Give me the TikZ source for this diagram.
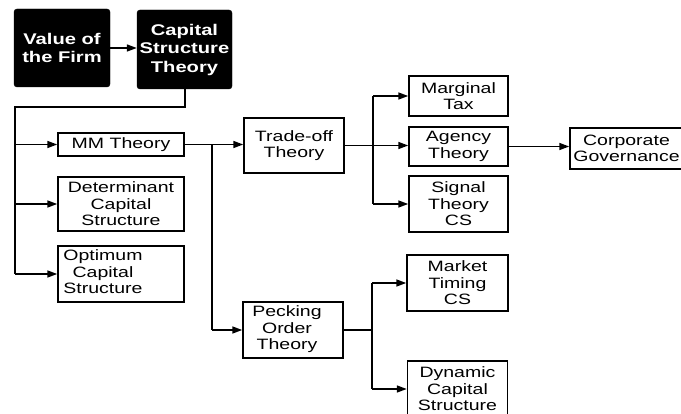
\documentclass[tikz,border=0pt]{standalone}
\usepackage{fontspec}
\setmainfont{Liberation Sans}[FakeStretch=1.3]
\usetikzlibrary{arrows.meta}
\begin{document}
\begin{tikzpicture}[x=1pt,y=-1pt,
  every node/.style={font=\fontsize{15}{16.5}\selectfont},
  blackbox/.style={fill=black,draw=black,rounded corners=3pt,text=white,align=center,
    font=\fontsize{15.5}{18.5}\selectfont\bfseries,inner sep=0pt},
  wbox/.style={draw=black,line width=1.5pt,align=center,inner sep=0pt},
  conn/.style={line width=1.6pt},
  arr/.style={line width=1.6pt,-{Triangle[length=10pt,width=7pt]}}]
\useasboundingbox (0,0) rectangle (681,414);
\clip (0,0) rectangle (681,414);
\fill[white] (0,0) rectangle (681,414);
% nodes
\node[blackbox,minimum width=96pt,minimum height=78pt] (vf) at (62,48) {Value of\\the Firm};
\node[blackbox,minimum width=95pt,minimum height=79pt] (cst) at (184.5,49.5) {Capital\\Structure\\Theory};
\node[wbox,minimum width=126pt,minimum height=23pt] (mm) at (121,144.5) {MM Theory};
\node[wbox,minimum width=126pt,minimum height=54pt] (det) at (121,204) {Determinant\\Capital\\Structure};
\node[wbox,minimum width=126pt,minimum height=56pt] (opt) at (121,274) {\begin{tabular}{@{}c@{}}Optimum\\Capital\\Structure\end{tabular}\kern36pt};
\node[wbox,minimum width=100pt,minimum height=55pt] (to) at (294,145.5) {Trade-off\\Theory};
\node[wbox,minimum width=100pt,minimum height=56pt] (po) at (293,330) {\begin{tabular}{@{}c@{}}Pecking\\Order\\Theory\end{tabular}\kern12pt};
\node[wbox,minimum width=99pt,minimum height=40pt] (mt) at (458.5,96) {Marginal\\Tax};
\node[wbox,minimum width=99pt,minimum height=39pt] (ag) at (458.5,146.5) {Agency\\Theory};
\node[wbox,minimum width=99pt,minimum height=56pt] (sig) at (458.5,204) {Signal\\Theory\\CS};
\node[wbox,minimum width=113pt,minimum height=41pt] (cg) at (626.5,148.5) {Corporate\\Governance};
\node[wbox,minimum width=101pt,minimum height=56pt] (mtc) at (457.5,283) {Market\\Timing\\CS};
\node[wbox,minimum width=100pt,minimum height=56pt] (dyn) at (457.5,389) {Dynamic\\Capital\\Structure};
% coordinates
\coordinate (c1) at (185,107);
\coordinate (c2) at (15,107);
\coordinate (c3) at (15,274);
\coordinate (b1) at (212,144.5);
\coordinate (b2) at (212,330);
\coordinate (t1) at (373,96);
\coordinate (t2) at (373,204);
\coordinate (p1) at (372,283);
\coordinate (p2) at (372,389);
% connectors
\draw[arr] (vf.east) -- (vf.east -| cst.west);
\draw[conn] (cst.south -| c1) -- (c1) -- (c2) -- (c3);
\draw[arr] (c2 |- mm.west) -- (mm.west);
\draw[arr] (c2 |- det.west) -- (det.west);
\draw[arr] (c3) -- (opt.west);
\draw[arr] (mm.east) -- (mm.east -| to.west);
\draw[conn] (b1) -- (b2);
\draw[arr] (b2) -- (po.west);
\draw[arr] (to.east) -- (to.east -| ag.west);
\draw[conn] (t1) -- (t2);
\draw[arr] (t1) -- (mt.west);
\draw[arr] (t2) -- (sig.west);
\draw[arr] (ag.east) -- (ag.east -| cg.west);
\draw[conn] (po.east) -- (po.east -| p1);
\draw[conn] (p1) -- (p2);
\draw[arr] (p1) -- (mtc.west);
\draw[arr] (p2) -- (dyn.west);
\end{tikzpicture}
\end{document}
